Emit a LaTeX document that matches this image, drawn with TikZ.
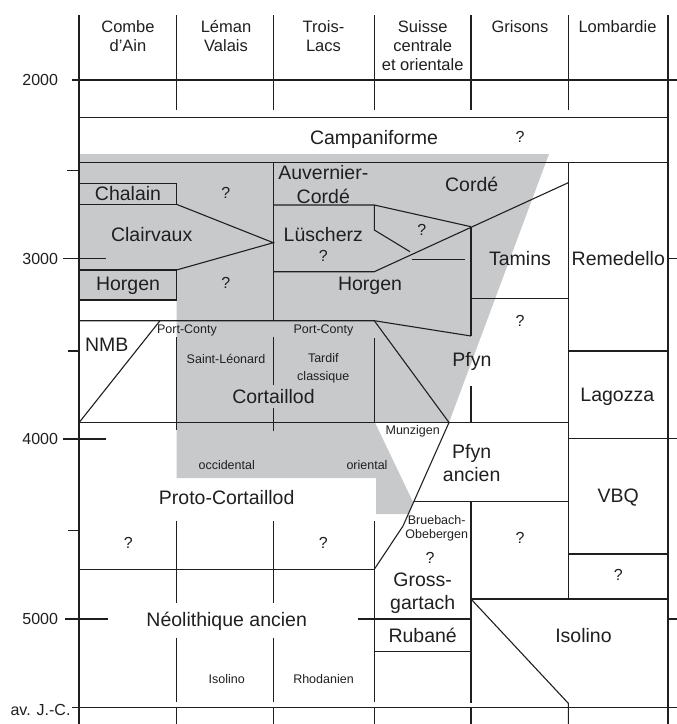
\documentclass[tikz,border=0pt]{standalone}
\usepackage{fontspec}
\setmainfont{Liberation Sans}
\usepackage{xcolor}
\definecolor{colorShade}{RGB}{200,201,203}
\colorlet{colorRule}{black!88}
\colorlet{colorInk}{black!88}
\usepackage{tikz}
\usetikzlibrary{positioning}
\tikzset{every picture/.style={x=1pt, y=-1pt}}

\begin{document}
\begin{tikzpicture}[line width=1.1pt, draw=colorRule, every node/.style={text=colorInk, inner sep=0pt, align=center},
  txtBig/.style={font=\fontsize{19.5}{23.4}\selectfont},
  txtHead/.style={font=\fontsize{16.5}{19}\selectfont},
  txtSmall/.style={font=\fontsize{12.5}{14}\selectfont},
  txtQuery/.style={font=\fontsize{16}{19}\selectfont},
  txtYear/.style={font=\fontsize{16}{19}\selectfont, anchor=east}]
\useasboundingbox (0,0) rectangle (677,724);
\fill[colorShade] (79,154) -- (549,154) -- (449,422.5) -- (375,422.5) -- (413,502) -- (408,514) -- (376,514) -- (376,478) -- (176.5,478) -- (176.5,300) -- (79,300) -- cycle;
% frame and time scale
\draw[colorRule] (79,15) -- (79,724) (668,15) -- (668,724);
\foreach \cx in {176.5,273.3,374.3,471,568.3} {\draw[colorRule] (\cx,15) -- (\cx,110);}
\foreach \cx in {176.5,273.3,374.3,471} {\draw[colorRule] (\cx,707.7) -- (\cx,724);}
\draw[colorRule] (72,80) -- (677,80) (72,707.7) -- (677,707.7);
\draw[colorRule] (79,117.5) -- (668,117.5) (79,162.3) -- (668,162.3);
\draw[colorRule] (67,170.7) -- (79,170.7) (63,258.8) -- (106,258.8) (68,351) -- (79,351) (63,439) -- (106,439) (68,530.7) -- (79,530.7) (65,619) -- (108,619);
\draw[colorRule] (668,258.5) -- (677,258.5) (668,619) -- (677,619);
\node[txtYear] (y2000) at (58.5,80) {2000};
\node[txtYear] (y3000) at (58.5,258.5) {3000};
\node[txtYear] (y4000) at (58.5,439) {4000};
\node[txtYear] (y5000) at (58.5,619) {5000};
\node[txtYear] (avjc) at (71,710) {av. J.-C.};
\node[txtHead] (hCombe) at (128,36) {Combe\\d'Ain};
\node[txtHead] (hLeman) at (226,36) {Léman\\Valais};
\node[txtHead] (hTrois) at (323.5,36) {Trois-\\Lacs};
\node[txtHead] (hSuisse) at (422.7,45.5) {Suisse\\centrale\\et orientale};
\node[txtHead] (hGrisons) at (520,26.7) {Grisons};
\node[txtHead] (hLombardie) at (617.5,26.7) {Lombardie};
% Combe d'Ain
\draw[colorRule] (79,183.3) -- (176.5,183.3) -- (176.5,204.3) -- (79,204.3);
\draw[colorRule] (176.5,204.3) -- (273.3,242.7) -- (176.5,270);
\draw[colorRule] (79,270) -- (176.5,270) -- (176.5,300) -- (79,300);
\node[txtBig] (chalain) at (128,194) {Chalain};
\node[txtBig] (clairvaux) at (151.7,235) {Clairvaux};
\node[txtBig] (horgenA) at (128,286) {Horgen};
\node[txtQuery] (qA) at (225.7,193.3) {?};
\node[txtQuery] (qB) at (225.7,283.3) {?};
% Trois-Lacs and Suisse
\draw[colorRule] (273.3,162.3) -- (273.3,320.7);
\draw[colorRule] (273.3,205) -- (374.3,205) -- (471,226.7);
\draw[colorRule] (374.3,205) -- (374.3,230) -- (410,251.7);
\draw[colorRule] (273.3,271.7) -- (374.3,271.7) -- (568.3,182.7);
\draw[colorRule] (411.7,259.5) -- (465,259.5);
\draw[colorRule] (471,226.7) -- (471,336);
\draw[colorRule] (79,320.7) -- (374.3,320.7) -- (471,336);
\draw[colorRule] (471,298.3) -- (568.3,298.3);
\node[txtBig] (auvernier) at (323.3,184.5) {Auvernier-\\Cordé};
\node[txtBig] (luscherz) at (323.3,235) {Lüscherz};
\node[txtQuery] (qC) at (323.3,256) {?};
\node[txtQuery] (qD) at (421.7,230) {?};
\node[txtBig] (horgenB) at (370,286) {Horgen};
\node[txtBig] (corde) at (471.7,184.3) {Cordé};
\node[txtBig] (tamins) at (520,258.3) {Tamins};
\node[txtQuery] (qE) at (520,321) {?};
% Cortaillod
\draw[colorRule] (160,320.7) -- (79,422.7);
\draw[colorRule] (79,422.5) -- (568.3,422.5);
\draw[colorRule] (176.5,337.3) -- (176.5,430);
\draw[colorRule] (273.3,337.3) -- (273.3,385) (273.3,408.3) -- (273.3,431);
\draw[colorRule] (374.3,338.3) -- (374.3,422.5);
\draw[colorRule] (374.3,320.7) -- (449,422.5);
\draw[colorRule] (471,385.7) -- (471,422.5);
\node[txtBig] (nmb) at (106.7,345) {NMB};
\node[txtSmall] (portA) at (187,330) {Port-Conty};
\node[txtSmall] (portB) at (323.5,330.7) {Port-Conty};
\node[txtSmall] (leonard) at (226,359) {Saint-Léonard};
\node[txtSmall] (tardif) at (323.3,368) {Tardif\\[3.7pt]classique};
\node[txtBig] (cortaillod) at (273.5,396.7) {Cortaillod};
\node[txtBig] (pfyn) at (472,361.7) {Pfyn};
\node[txtSmall] (occidental) at (226.7,465.5) {occidental};
\node[txtSmall] (oriental) at (367,465) {oriental};
\node[txtSmall] (munzigen) at (412.7,431.7) {Munzigen};
% Pfyn ancien and Grossgartach
\draw[colorRule] (449,422.5) -- (403,526) -- (374.3,569.3);
\draw[colorRule] (414,501.7) -- (568.3,501.7);
\draw[colorRule] (374.3,520.7) -- (374.3,701.7);
\draw[colorRule] (471,501.7) -- (471,703.3);
\draw[colorRule] (358.3,619) -- (471,619) (374.3,651.7) -- (471,651.7);
\node[txtBig] (pfynAncien) at (471.7,463.3) {Pfyn\\ancien};
\node[txtSmall] (bruebach) at (436.7,528.7) {Bruebach-\\Obebergen};
\node[txtQuery] (qF) at (430,558.3) {?};
\node[txtBig] (gross) at (422.7,593.3) {Gross-\\gartach};
\node[txtBig] (rubane) at (422.7,635.7) {Rubané};
\node[txtQuery] (qG) at (520,538.3) {?};
% Lombardie
\draw[colorRule] (568.3,162.3) -- (568.3,599);
\draw[colorRule] (568.3,351) -- (668,351) (568.3,438.7) -- (677,438.7) (568.3,554) -- (668,554);
\draw[colorRule] (471,599) -- (668,599);
\draw[colorRule] (471,599) -- (568.3,703.3) -- (568.3,724);
\node[txtBig] (remedello) at (618.3,258.3) {Remedello};
\node[txtBig] (lagozza) at (617.3,396.7) {Lagozza};
\node[txtBig] (vbq) at (618.3,497.7) {VBQ};
\node[txtQuery] (qH) at (618.3,575) {?};
\node[txtBig] (isolinoB) at (583.5,636) {Isolino};
% Neolithique ancien
\draw[colorRule] (79,569.3) -- (374.3,569.3);
\draw[colorRule] (176.5,520.7) -- (176.5,603.3) (176.5,637.7) -- (176.5,701.7);
\draw[colorRule] (273.3,520.7) -- (273.3,603.3) (273.3,637.7) -- (273.3,701.7);
\node[txtBig] (proto) at (226.7,497.3) {Proto-Cortaillod};
\node[txtQuery] (qI) at (128.3,542.7) {?};
\node[txtQuery] (qJ) at (323.3,542.7) {?};
\node[txtBig] (neolithique) at (226.7,621) {Néolithique ancien};
\node[txtSmall] (isolinoA) at (226.7,679) {Isolino};
\node[txtSmall] (rhodanien) at (323.5,679) {Rhodanien};
\node[txtBig] (campaniforme) at (374,139) {Campaniforme};
\node[txtQuery] (qK) at (520,137) {?};
\end{tikzpicture}
\end{document}
